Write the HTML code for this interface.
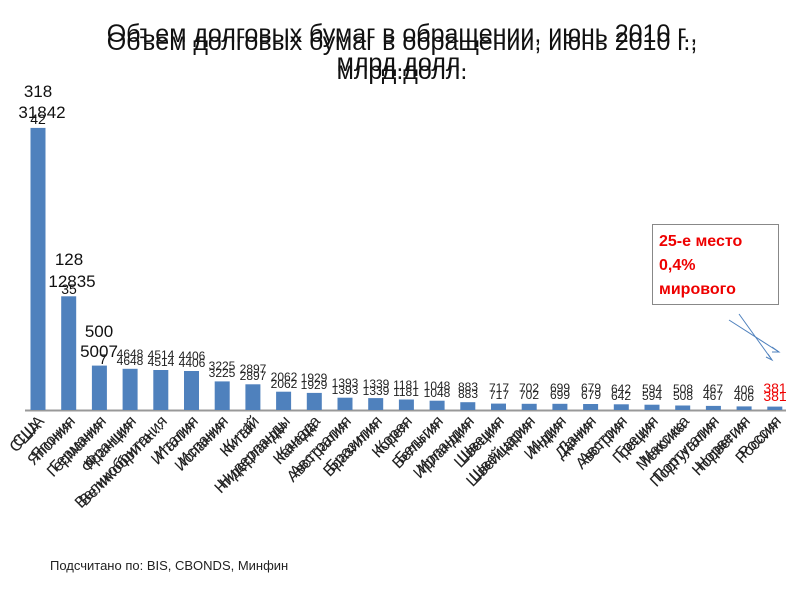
<!DOCTYPE html>
<html><head><meta charset="utf-8"><style>
body{margin:0;background:#fff;}
svg{display:block;font-family:"Liberation Sans","DejaVu Sans",sans-serif;}
</style></head><body>
<svg width="800" height="600" viewBox="0 0 800 600">
<g font-size="25" fill="#111" text-anchor="middle">
<text x="402" y="42">Объем долговых бумаг в обращении, июнь 2010 г.,</text>
<text x="402" y="50">Объем долговых бумаг в обращении, июнь 2010 г.,</text>
<text x="402" y="71">млрд.долл.</text>
<text x="402" y="79">млрд.долл.</text>
</g>
<line x1="25" y1="410.5" x2="786" y2="410.5" stroke="#999" stroke-width="2"/>
<g fill="#4f81bd">
<rect x="30.5" y="127.9" width="15" height="282.1"/>
<rect x="61.2" y="296.3" width="15" height="113.7"/>
<rect x="91.9" y="365.6" width="15" height="44.4"/>
<rect x="122.6" y="368.8" width="15" height="41.2"/>
<rect x="153.3" y="370" width="15" height="40"/>
<rect x="184" y="371" width="15" height="39"/>
<rect x="214.7" y="381.4" width="15" height="28.6"/>
<rect x="245.4" y="384.3" width="15" height="25.7"/>
<rect x="276.1" y="391.7" width="15" height="18.3"/>
<rect x="306.8" y="392.9" width="15" height="17.1"/>
<rect x="337.5" y="397.7" width="15" height="12.3"/>
<rect x="368.2" y="398.1" width="15" height="11.9"/>
<rect x="398.9" y="399.5" width="15" height="10.5"/>
<rect x="429.6" y="400.7" width="15" height="9.3"/>
<rect x="460.3" y="402.2" width="15" height="7.8"/>
<rect x="491" y="403.6" width="15" height="6.4"/>
<rect x="521.7" y="403.8" width="15" height="6.2"/>
<rect x="552.4" y="403.8" width="15" height="6.2"/>
<rect x="583.1" y="404" width="15" height="6"/>
<rect x="613.8" y="404.3" width="15" height="5.7"/>
<rect x="644.5" y="404.7" width="15" height="5.3"/>
<rect x="675.2" y="405.5" width="15" height="4.5"/>
<rect x="705.9" y="405.9" width="15" height="4.1"/>
<rect x="736.6" y="406.4" width="15" height="3.6"/>
<rect x="767.3" y="406.6" width="15" height="3.4"/>
</g>
<g font-size="17" fill="#111" text-anchor="middle">
<text x="38" y="97">318</text><text x="42" y="118">31842</text><text x="38" y="124" font-size="14">42</text>
<text x="69" y="265">128</text><text x="72" y="287">12835</text><text x="69" y="294" font-size="14">35</text>
<text x="99" y="337">500</text><text x="99" y="357">5007</text><text x="103" y="364" font-size="14">7</text>
</g>
<g font-size="12" fill="#222" text-anchor="middle">
<text x="130" y="358">4648</text><text x="130" y="365">4648</text>
<text x="161" y="359">4514</text><text x="161" y="366">4514</text>
<text x="192" y="360">4406</text><text x="192" y="367">4406</text>
<text x="222" y="370">3225</text><text x="222" y="377">3225</text>
<text x="253" y="373">2897</text><text x="253" y="380">2897</text>
<text x="284" y="381">2062</text><text x="284" y="388">2062</text>
<text x="314" y="382">1929</text><text x="314" y="389">1929</text>
<text x="345" y="387">1393</text><text x="345" y="394">1393</text>
<text x="376" y="388">1339</text><text x="376" y="395">1339</text>
<text x="406" y="389">1181</text><text x="406" y="396">1181</text>
<text x="437" y="390">1048</text><text x="437" y="397">1048</text>
<text x="468" y="391">883</text><text x="468" y="398">883</text>
<text x="499" y="392">717</text><text x="499" y="399">717</text>
<text x="529" y="392">702</text><text x="529" y="399">702</text>
<text x="560" y="392">699</text><text x="560" y="399">699</text>
<text x="591" y="392">679</text><text x="591" y="399">679</text>
<text x="621" y="393">642</text><text x="621" y="400">642</text>
<text x="652" y="393">594</text><text x="652" y="400">594</text>
<text x="683" y="393">508</text><text x="683" y="400">508</text>
<text x="713" y="393">467</text><text x="713" y="400">467</text>
<text x="744" y="394">406</text><text x="744" y="401">406</text>
<text x="775" y="393" fill="#e00" font-size="14">381</text><text x="775" y="401" fill="#e00" font-size="14">381</text>
</g>
<g font-size="16" fill="#222" text-anchor="end">
<text transform="translate(45,422) rotate(-45)">США</text>
<text transform="translate(76,422) rotate(-45)">Япония</text>
<text transform="translate(107,422) rotate(-45)">Германия</text>
<text transform="translate(137,422) rotate(-45)">Франция</text>
<text transform="translate(168,422) rotate(-45)">Великобритания</text>
<text transform="translate(199,422) rotate(-45)">Италия</text>
<text transform="translate(229,422) rotate(-45)">Испания</text>
<text transform="translate(260,422) rotate(-45)">Китай</text>
<text transform="translate(291,422) rotate(-45)">Нидерланды</text>
<text transform="translate(321,422) rotate(-45)">Канада</text>
<text transform="translate(352,422) rotate(-45)">Австралия</text>
<text transform="translate(383,422) rotate(-45)">Бразилия</text>
<text transform="translate(413,422) rotate(-45)">Корея</text>
<text transform="translate(444,422) rotate(-45)">Бельгия</text>
<text transform="translate(475,422) rotate(-45)">Ирландия</text>
<text transform="translate(505,422) rotate(-45)">Швеция</text>
<text transform="translate(536,422) rotate(-45)">Швейцария</text>
<text transform="translate(567,422) rotate(-45)">Индия</text>
<text transform="translate(597,422) rotate(-45)">Дания</text>
<text transform="translate(628,422) rotate(-45)">Австрия</text>
<text transform="translate(659,422) rotate(-45)">Греция</text>
<text transform="translate(690,422) rotate(-45)">Мексика</text>
<text transform="translate(720,422) rotate(-45)">Португалия</text>
<text transform="translate(751,422) rotate(-45)">Норвегия</text>
<text transform="translate(782,422) rotate(-45)">Россия</text>
</g>
<g font-size="16" fill="#222" text-anchor="end" transform="translate(-3,5)">
<text transform="translate(45,422) rotate(-45)">США</text>
<text transform="translate(76,422) rotate(-45)">Япония</text>
<text transform="translate(107,422) rotate(-45)">Германия</text>
<text transform="translate(137,422) rotate(-45)">Франция</text>
<text transform="translate(168,422) rotate(-45)">Великобрита…</text>
<text transform="translate(199,422) rotate(-45)">Италия</text>
<text transform="translate(229,422) rotate(-45)">Испания</text>
<text transform="translate(260,422) rotate(-45)">Китай</text>
<text transform="translate(291,422) rotate(-45)">Нидерланды</text>
<text transform="translate(321,422) rotate(-45)">Канада</text>
<text transform="translate(352,422) rotate(-45)">Австралия</text>
<text transform="translate(383,422) rotate(-45)">Бразилия</text>
<text transform="translate(413,422) rotate(-45)">Корея</text>
<text transform="translate(444,422) rotate(-45)">Бельгия</text>
<text transform="translate(475,422) rotate(-45)">Ирландия</text>
<text transform="translate(505,422) rotate(-45)">Швеция</text>
<text transform="translate(536,422) rotate(-45)">Швейцария</text>
<text transform="translate(567,422) rotate(-45)">Индия</text>
<text transform="translate(597,422) rotate(-45)">Дания</text>
<text transform="translate(628,422) rotate(-45)">Австрия</text>
<text transform="translate(659,422) rotate(-45)">Греция</text>
<text transform="translate(690,422) rotate(-45)">Мексика</text>
<text transform="translate(720,422) rotate(-45)">Португалия</text>
<text transform="translate(751,422) rotate(-45)">Норвегия</text>
<text transform="translate(782,422) rotate(-45)">Россия</text>
</g>
<rect x="652.5" y="224.5" width="126" height="80" fill="#fff" stroke="#888"/>
<g font-size="16" font-weight="bold" fill="#e00">
<text x="659" y="246">25-е место</text>
<text x="659" y="270">0,4%</text>
<text x="659" y="294">мирового</text>
</g>
<g stroke="#4f81bd" stroke-width="1" fill="none">
<line x1="729" y1="320" x2="779" y2="352"/>
<line x1="739" y1="314" x2="772" y2="360"/>
<path d="M768 354 L772 360 L766 357"/>
<path d="M772 347 L779 352 L772 352"/>
</g>
<text x="50" y="570" font-size="13" fill="#222">Подсчитано по: BIS, CBONDS, Минфин</text>
</svg>
</body></html>
